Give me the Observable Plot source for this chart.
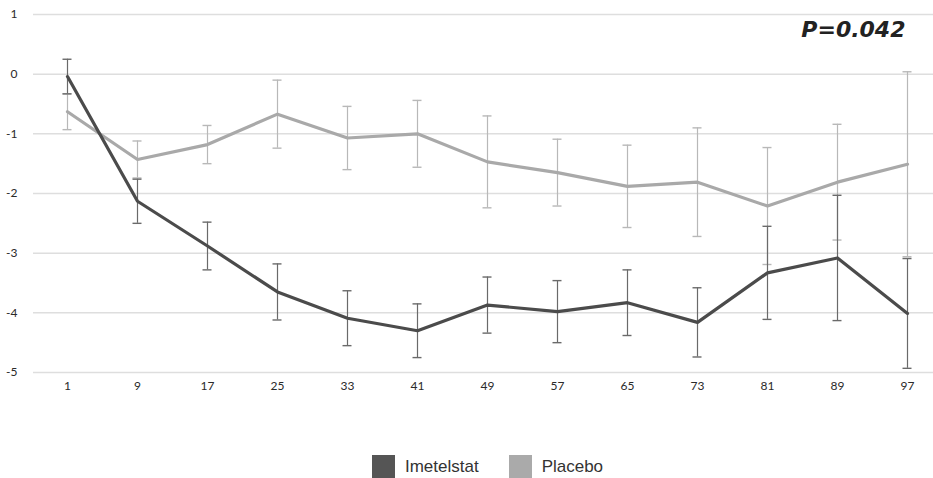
<!DOCTYPE html>
<html>
<head>
<meta charset="utf-8">
<script src="https://cdn.jsdelivr.net/npm/d3@7"></script>
<script src="https://cdn.jsdelivr.net/npm/@observablehq/plot@0.6"></script>
<style>
  body { margin: 0; background: #fff; }
  #chart { width: 933px; }
  .legend { display: flex; justify-content: center; align-items: center; margin-top: 55px; padding-left: 42px;
    font-family: "Liberation Sans", Arial, sans-serif; font-size: 17px; color: #333; }
  .legend span.sw { display: inline-block; width: 23px; height: 23px; margin-right: 10px; }
  .legend .item { display: flex; align-items: center; margin: 0 15px; }
</style>
</head>
<body>
<div id="chart"></div>
<script>
const weeks = [1, 9, 17, 25, 33, 41, 49, 57, 65, 73, 81, 89, 97];
const imetelstatMean = [-0.04, -2.13, -2.88, -3.65, -4.09, -4.30, -3.87, -3.98, -3.83, -4.16, -3.33, -3.08, -4.01];
const imetelstatErr  = [0.29, 0.37, 0.40, 0.47, 0.46, 0.45, 0.47, 0.52, 0.55, 0.58, 0.78, 1.05, 0.92];
const placeboMean = [-0.63, -1.43, -1.18, -0.67, -1.07, -1.00, -1.47, -1.65, -1.88, -1.81, -2.21, -1.81, -1.51];
const placeboErr  = [0.30, 0.31, 0.32, 0.57, 0.53, 0.56, 0.77, 0.56, 0.69, 0.91, 0.98, 0.97, 1.55];
const yTicks = [-5, -4, -3, -2, -1, 0, 1];
const seriesNames = ["Imetelstat", "Placebo"];
const pLabel = "P=0.042";

const colors = { Imetelstat: "#4b4b4b", Placebo: "#a9a9a9" };
const errColors = { Imetelstat: "#6a6a6a", Placebo: "#b8b8b8" };

function rows(name, means, errs) {
  return weeks.map((w, i) => ({ series: name, week: String(w), mean: means[i], lo: means[i] - errs[i], hi: means[i] + errs[i] }));
}
const imet = rows("Imetelstat", imetelstatMean, imetelstatErr);
const plac = rows("Placebo", placeboMean, placeboErr);

function errMarks(data, name) {
  const c = errColors[name];
  return [
    Plot.ruleX(data, { x: "week", y1: "lo", y2: "hi", stroke: c, strokeWidth: 1.2 }),
    Plot.tickY(data, { x: "week", y: "lo", stroke: c, strokeWidth: 1.4, insetLeft: 30.5, insetRight: 30.5 }),
    Plot.tickY(data, { x: "week", y: "hi", stroke: c, strokeWidth: 1.4, insetLeft: 30.5, insetRight: 30.5 })
  ];
}

const chart = Plot.plot({
  width: 933,
  height: 400,
  marginLeft: 33,
  marginRight: 0,
  marginTop: 14,
  marginBottom: 28,
  style: { fontFamily: "Lato, 'DejaVu Sans', sans-serif", fontSize: "12px", color: "#2a2a2a", background: "#fff" },
  x: { type: "band", domain: weeks.map(String), range: [32, 942], padding: 0, tickSize: 0, tickPadding: 9, label: null },
  y: { domain: [-5, 1], ticks: yTicks, tickSize: 0, tickPadding: 16, label: null, tickFormat: d => String(d) },
  marks: [
    Plot.ruleY(yTicks, { stroke: "#dedede", strokeWidth: 1.5 }),
    ...errMarks(plac, "Placebo"),
    Plot.line(plac, { x: "week", y: "mean", stroke: colors.Placebo, strokeWidth: 3.2 }),
    ...errMarks(imet, "Imetelstat"),
    Plot.line(imet, { x: "week", y: "mean", stroke: colors.Imetelstat, strokeWidth: 3.2 }),
    Plot.text([pLabel], { frameAnchor: "top-right", dx: -28, dy: 7, lineAnchor: "top", text: d => d,
      fontSize: 22, fontWeight: "bold", fontStyle: "italic", fill: "#222", fontFamily: "'DejaVu Sans', sans-serif" })
  ]
});
document.getElementById("chart").appendChild(chart);

const legend = document.createElement("div");
legend.className = "legend";
for (const name of seriesNames) {
  const item = document.createElement("div");
  item.className = "item";
  const sw = document.createElement("span");
  sw.className = "sw";
  sw.style.background = name === "Imetelstat" ? "#555" : "#aaa";
  item.appendChild(sw);
  item.appendChild(document.createTextNode(name));
  legend.appendChild(item);
}
document.getElementById("chart").appendChild(legend);
</script>
</body>
</html>
